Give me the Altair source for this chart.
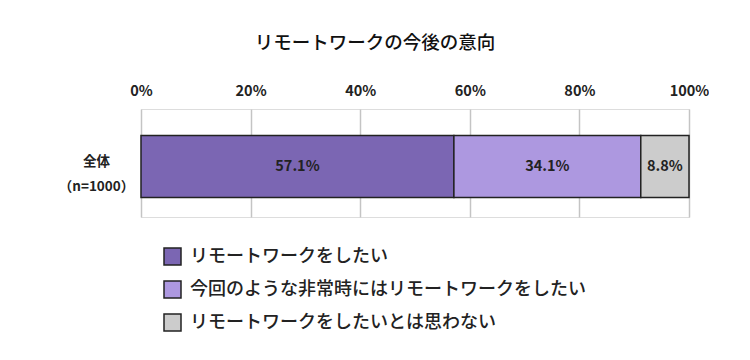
import altair as alt
import pandas as pd

title_text = "リモートワークの今後の意向"
group_label = "全体\n（n=1000）"
categories = ["リモートワークをしたい", "今回のような非常時にはリモートワークをしたい", "リモートワークをしたいとは思わない"]
values = [57.1, 34.1, 8.8]
labels = ["57.1%", "34.1%", "8.8%"]
colors = ["#7b66b3", "#ad98e0", "#cccccc"]

df = pd.DataFrame({
    "group": [group_label] * 3,
    "category": categories,
    "value": values,
    "label": labels,
    "order": [0, 1, 2],
})

FONT = "Noto Sans CJK JP"

base = alt.Chart(df).transform_stack(
    stack="value", as_=["x0", "x1"], groupby=["group"], sort=[alt.SortField("order")]
).transform_calculate(mid="(datum.x0 + datum.x1) / 2")

xscale = alt.Scale(domain=[0, 100], nice=False, zero=True)
yscale = alt.Scale(paddingInner=0.2, paddingOuter=0.2, align=0.6)

bars = base.mark_bar(size=62, stroke="#222222", strokeWidth=1.5).encode(
    x=alt.X("x0:Q", scale=xscale, axis=alt.Axis(
        orient="top", values=[0, 20, 40, 60, 80, 100], labelExpr="datum.value + '%'",
        domain=False, ticks=False, grid=True, gridColor="#c4c4c4", gridWidth=1.5,
        labelFlush=False,
        labelFont=FONT, labelFontSize=14.5, labelFontWeight="bold", labelColor="#222222",
        labelPadding=11, title=None)),
    x2="x1:Q",
    y=alt.Y("group:N", scale=yscale, axis=alt.Axis(
        title=None, domain=False, ticks=False, labelAlign="center", labelPadding=45,
        labelExpr="split(datum.label, '\\n')", labelLineHeight=25, labelOffset=-5,
        labelFont=FONT, labelFontSize=13.5, labelFontWeight="bold", labelColor="#222222")),
    color=alt.Color("category:N", scale=alt.Scale(domain=categories, range=colors),
                    sort=categories,
                    legend=alt.Legend(
                        title=None, orient="none", legendX=22, legendY=138,
                        direction="vertical", symbolType="square", symbolSize=289,
                        symbolStrokeColor="#222222", symbolStrokeWidth=1.5, symbolOpacity=1,
                        labelFont=FONT, labelFontSize=18, labelFontWeight=500, labelColor="#222222",
                        rowPadding=10, labelOffset=8, labelLimit=600)),
    order=alt.Order("order:Q"),
)

text = base.mark_text(font=FONT, fontSize=14.5, fontWeight="bold", color="#222222").encode(
    x=alt.X("mid:Q", scale=xscale),
    y=alt.Y("group:N", scale=yscale),
    text="label:N",
)

chart = (bars + text).properties(
    width=548, height=108,
    title=alt.TitleParams(title_text, font=FONT, fontSize=18.5, fontWeight=500,
                          color="#111111", anchor="middle", dx=-40, offset=31),
    autosize=alt.AutoSizeParams(type="none"),
    padding={"left": 133, "top": 101, "right": 20, "bottom": 125},
).configure_view(stroke=None).configure(background="white")

chart.save("out.html", embed_options={"renderer": "svg", "actions": False})
